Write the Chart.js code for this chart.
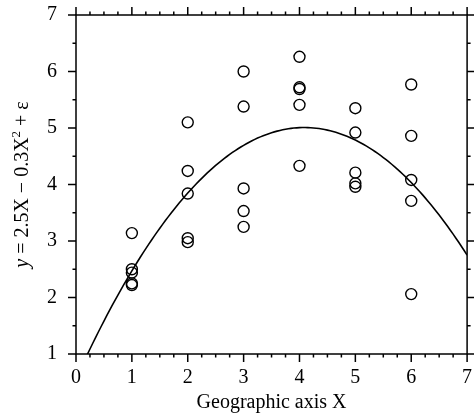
<!DOCTYPE html>
<html>
<head>
<meta charset="utf-8">
<script src="https://cdn.jsdelivr.net/npm/chart.js@4.4.1/dist/chart.umd.min.js"></script>
<style>
  html, body { margin: 0; padding: 0; background: #ffffff; }
  canvas { display: block; }
</style>
</head>
<body>
<canvas id="chart" width="474" height="417"></canvas>
<script>
// Observations at each position along the geographic axis
const xPositions = [1, 2, 3, 4, 5, 6];
const yAtX1 = [3.14, 2.50, 2.44, 2.25, 2.22];
const yAtX2 = [5.10, 4.24, 3.84, 3.05, 2.98];
const yAtX3 = [6.00, 5.38, 3.93, 3.53, 3.25];
const yAtX4 = [6.26, 5.72, 5.69, 5.41, 4.33];
const yAtX5 = [5.35, 4.92, 4.21, 4.02, 3.96];
const yAtX6 = [5.77, 4.86, 4.08, 3.71, 2.06];
const yGroups = [yAtX1, yAtX2, yAtX3, yAtX4, yAtX5, yAtX6];

// Axis tick values
const xTickValues = [0, 1, 2, 3, 4, 5, 6, 7];
const yTickValues = [1, 2, 3, 4, 5, 6, 7];
const xMinorStep = 0.25;
const yMinorStep = 0.5;

const FONT = "'Liberation Serif', 'Times New Roman', serif";

// Scatter points
const points = [];
xPositions.forEach((x, i) => yGroups[i].forEach(y => points.push({ x, y })));

// Least-squares quadratic fit y = b0 + b1 x + b2 x^2
function fitQuadratic(pts) {
  const A = [[0, 0, 0], [0, 0, 0], [0, 0, 0]];
  const b = [0, 0, 0];
  pts.forEach(p => {
    const v = [1, p.x, p.x * p.x];
    for (let r = 0; r < 3; r++) {
      b[r] += v[r] * p.y;
      for (let c = 0; c < 3; c++) A[r][c] += v[r] * v[c];
    }
  });
  for (let k = 0; k < 3; k++) {
    for (let r = k + 1; r < 3; r++) {
      const f = A[r][k] / A[k][k];
      for (let c = k; c < 3; c++) A[r][c] -= f * A[k][c];
      b[r] -= f * b[k];
    }
  }
  const coef = [0, 0, 0];
  for (let r = 2; r >= 0; r--) {
    let s = b[r];
    for (let c = r + 1; c < 3; c++) s -= A[r][c] * coef[c];
    coef[r] = s / A[r][r];
  }
  return coef;
}
const coef = fitQuadratic(points);
const fitLine = [];
for (let i = 0; i <= 140; i++) {
  const x = i * 0.05;
  fitLine.push({ x, y: coef[0] + coef[1] * x + coef[2] * x * x });
}

// Frame with outward major/minor tick marks on all four sides
const framePlugin = {
  id: 'frame',
  afterDraw(chart) {
    const { ctx, chartArea: a, scales: { x: sx, y: sy } } = chart;
    const MAJ = 8, MIN = 3.5;
    ctx.save();
    ctx.strokeStyle = '#000';
    ctx.lineWidth = 1.5;
    ctx.lineCap = 'butt';
    ctx.strokeRect(a.left, a.top, a.right - a.left, a.bottom - a.top);
    ctx.beginPath();
    const nx = Math.round((sx.max - sx.min) / xMinorStep);
    for (let i = 0; i <= nx; i++) {
      const v = sx.min + i * xMinorStep;
      const len = Math.abs(v - Math.round(v)) < 1e-9 ? MAJ : MIN;
      const px = sx.getPixelForValue(v);
      ctx.moveTo(px, a.bottom); ctx.lineTo(px, a.bottom + len);
      ctx.moveTo(px, a.top); ctx.lineTo(px, a.top - len);
    }
    const ny = Math.round((sy.max - sy.min) / yMinorStep);
    for (let i = 0; i <= ny; i++) {
      const v = sy.min + i * yMinorStep;
      const len = Math.abs(v - Math.round(v)) < 1e-9 ? MAJ : MIN;
      const py = sy.getPixelForValue(v);
      ctx.moveTo(a.left, py); ctx.lineTo(a.left - len, py);
      ctx.moveTo(a.right, py); ctx.lineTo(a.right + len, py);
    }
    ctx.stroke();

    // Rotated y-axis title with italic y and superscript 2
    const parts = [
      { t: 'y', f: 'italic 20px ' + FONT, dy: 0 },
      { t: ' = 2.5X \u2212 0.3X', f: '20px ' + FONT, dy: 0 },
      { t: '2', f: '13px ' + FONT, dy: -8 },
      { t: ' + \u03b5', f: '20px ' + FONT, dy: 0 }
    ];
    let total = 0;
    parts.forEach(p => { ctx.font = p.f; p.w = ctx.measureText(p.t).width; total += p.w; });
    ctx.translate(28, (a.top + a.bottom) / 2);
    ctx.rotate(-Math.PI / 2);
    ctx.fillStyle = '#000';
    ctx.textBaseline = 'alphabetic';
    ctx.textAlign = 'left';
    let cx = -total / 2;
    parts.forEach(p => { ctx.font = p.f; ctx.fillText(p.t, cx, p.dy); cx += p.w; });
    ctx.restore();
  }
};

function noPadding(s) {
  s.paddingLeft = 0; s.paddingRight = 0; s.paddingTop = 0; s.paddingBottom = 0;
}

new Chart(document.getElementById('chart'), {
  type: 'scatter',
  data: {
    datasets: [
      {
        data: points,
        pointStyle: 'circle',
        pointRadius: 5.5,
        pointBorderWidth: 1.4,
        borderColor: '#000',
        backgroundColor: 'rgba(0,0,0,0)',
        showLine: false
      },
      {
        data: fitLine,
        showLine: true,
        pointRadius: 0,
        borderColor: '#000',
        borderWidth: 1.6,
        tension: 0,
        fill: false
      }
    ]
  },
  options: {
    responsive: false,
    devicePixelRatio: 1,
    animation: false,
    layout: { padding: { top: 15, right: 4, left: 0, bottom: 0 } },
    plugins: { legend: { display: false }, tooltip: { enabled: false } },
    scales: {
      x: {
        type: 'linear',
        position: 'bottom',
        min: 0, max: 7,
        grid: { display: false, drawTicks: false },
        border: { display: false },
        afterBuildTicks: s => { s.ticks = xTickValues.map(v => ({ value: v })); },
        afterFit: s => { s.height = 63; noPadding(s); },
        ticks: { color: '#000', padding: 12, font: { family: FONT, size: 20 }, autoSkip: false, maxRotation: 0 },
        title: { display: true, text: 'Geographic axis X', color: '#000', font: { family: FONT, size: 20 }, padding: { top: 0, bottom: 2 } }
      },
      y: {
        type: 'linear',
        min: 1, max: 7,
        grid: { display: false, drawTicks: false },
        border: { display: false },
        afterBuildTicks: s => { s.ticks = yTickValues.map(v => ({ value: v })); },
        afterFit: s => { s.width = 76; noPadding(s); },
        ticks: { color: '#000', padding: 19, font: { family: FONT, size: 20 }, autoSkip: false }
      }
    }
  },
  plugins: [framePlugin]
});
</script>
</body>
</html>
